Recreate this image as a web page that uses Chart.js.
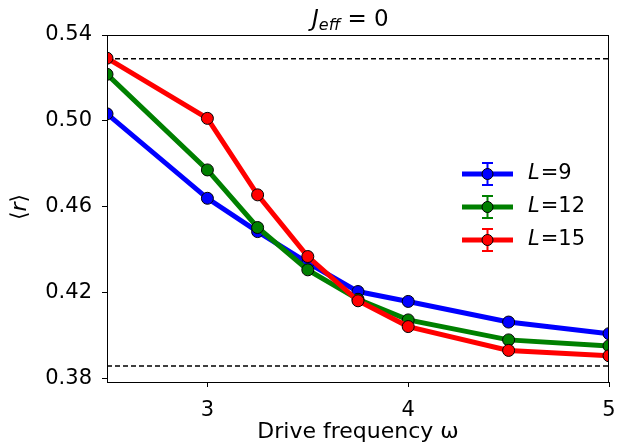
<!DOCTYPE html>
<html>
<head>
<meta charset="utf-8">
<script src="https://cdn.jsdelivr.net/npm/chart.js@4.4.0/dist/chart.umd.min.js"></script>
<style>
  html, body { margin: 0; padding: 0; background: #fff; }
  #wrap { width: 623px; height: 446px; }
</style>
</head>
<body>
<div id="wrap"><canvas id="chartCanvas" width="623" height="446"></canvas></div>
<script>
// drive frequencies
const omegas = [2.5, 3, 3.25, 3.5, 3.75, 4, 4.5, 5];

// mean gap ratio <r> for each system size
const rL9 = [0.5033, 0.4640, 0.4485, 0.4340, 0.4206, 0.4160, 0.4064, 0.4010];
const rL12 = [0.5217, 0.4772, 0.4504, 0.4307, 0.4170, 0.4074, 0.3981, 0.3953];
const rL15 = [0.5292, 0.5012, 0.4656, 0.4369, 0.4163, 0.4043, 0.3932, 0.3907];

const seriesNames = ["9", "12", "15"];
const seriesColors = ["#0000ff", "#008000", "#ff0000"];

// reference levels (GOE and Poisson)
const goeLevel = 0.5290;
const poissonLevel = 0.3860;

const xTicks = [3, 4, 5];
const yTicks = [0.38, 0.42, 0.46, 0.50, 0.54];

const FONT = "'DejaVu Sans', sans-serif";

function pts(ys) {
  return omegas.map((x, i) => ({ x: x, y: ys[i] }));
}

function levelLine(v) {
  return [{ x: 2.5, y: v }, { x: 5, y: v }];
}

const seriesData = [rL9, rL12, rL15];

const datasets = seriesData.map((ys, i) => ({
  label: "L=" + seriesNames[i],
  data: pts(ys),
  borderColor: seriesColors[i],
  backgroundColor: seriesColors[i],
  borderWidth: 5,
  pointRadius: 6,
  pointBorderColor: "#000",
  pointBorderWidth: 1,
  pointBackgroundColor: seriesColors[i],
  tension: 0,
  clip: 0,
  order: 3 - i
}));

[goeLevel, poissonLevel].forEach(v => {
  datasets.push({
    label: "",
    data: levelLine(v),
    borderColor: "#000",
    borderWidth: 1.5,
    borderDash: [5, 3],
    pointRadius: 0,
    clip: 0,
    order: 10
  });
});

const decor = {
  id: "decor",
  afterDraw(chart) {
    const ctx = chart.ctx;
    const a = chart.chartArea;
    ctx.save();

    // box
    ctx.strokeStyle = "#000";
    ctx.lineWidth = 1;
    ctx.strokeRect(Math.round(a.left) + 0.5, Math.round(a.top) + 0.5,
      Math.round(a.right - a.left) - 1, Math.round(a.bottom - a.top));

    // title J_eff = 0
    ctx.fillStyle = "#000";
    ctx.textBaseline = "alphabetic";
    ctx.textAlign = "left";
    const fBig = "italic 23px " + FONT;
    const fSub = "italic 16px " + FONT;
    const fNorm = "23px " + FONT;
    ctx.font = fBig; const wJ = ctx.measureText("J").width;
    ctx.font = fSub; const wE = ctx.measureText("eff").width;
    ctx.font = fNorm; const wR = ctx.measureText(" = 0").width;
    let tx = 312;
    const ty = 26;
    ctx.font = fBig; ctx.fillText("J", tx, ty); tx += wJ;
    ctx.font = fSub; ctx.fillText("eff", tx, ty + 4); tx += wE;
    ctx.font = fNorm; ctx.fillText(" = 0", tx, ty);

    // y label <r>
    ctx.save();
    ctx.translate(20, 207);
    ctx.rotate(-Math.PI / 2);
    ctx.textBaseline = "middle";
    ctx.font = "22px " + FONT; const w1 = ctx.measureText("\u27e8").width;
    ctx.font = "italic 22px " + FONT; const w2 = ctx.measureText("r").width;
    ctx.font = "22px " + FONT; const w3 = ctx.measureText("\u27e9").width;
    let lx = -(w1 + w2 + w3) / 2;
    ctx.font = "22px " + FONT; ctx.fillText("\u27e8", lx, 0); lx += w1;
    ctx.font = "italic 22px " + FONT; ctx.fillText("r", lx, 0); lx += w2;
    ctx.font = "22px " + FONT; ctx.fillText("\u27e9", lx, 0);
    ctx.restore();

    // legend
    seriesNames.forEach((name, i) => {
      const y = 174 + 33 * i;
      const c = seriesColors[i];
      ctx.strokeStyle = c;
      ctx.lineWidth = 5;
      ctx.beginPath(); ctx.moveTo(462, y); ctx.lineTo(513, y); ctx.stroke();
      ctx.lineWidth = 2;
      ctx.beginPath();
      ctx.moveTo(487.5, y - 11); ctx.lineTo(487.5, y + 11);
      ctx.moveTo(482, y - 11); ctx.lineTo(493, y - 11);
      ctx.moveTo(482, y + 11); ctx.lineTo(493, y + 11);
      ctx.stroke();
      ctx.fillStyle = c;
      ctx.strokeStyle = "#000";
      ctx.lineWidth = 1;
      ctx.beginPath(); ctx.arc(487.5, y, 5.5, 0, Math.PI * 2); ctx.fill(); ctx.stroke();
      ctx.fillStyle = "#000";
      ctx.textBaseline = "middle";
      ctx.font = "italic 21px " + FONT;
      ctx.fillText("L", 528, y);
      const wl = ctx.measureText("L").width;
      ctx.font = "21px " + FONT;
      ctx.fillText("=" + name, 528 + wl + 1, y);
    });

    ctx.restore();
  }
};

function noPad(s) {
  s.paddingLeft = 0; s.paddingRight = 0;
  s.paddingTop = 0; s.paddingBottom = 0;
}

const ctx = document.getElementById("chartCanvas").getContext("2d");
new Chart(ctx, {
  type: "line",
  data: { datasets: datasets },
  options: {
    responsive: false,
    animation: false,
    layout: { padding: { top: 35, right: 14, left: 0, bottom: 0 } },
    plugins: {
      legend: { display: false },
      tooltip: { enabled: false },
      title: { display: false }
    },
    scales: {
      x: {
        type: "linear",
        min: 2.5,
        max: 5,
        afterFit: s => { s.height = 64; noPad(s); },
        afterBuildTicks: s => { s.ticks = xTicks.map(v => ({ value: v })); },
        grid: { drawOnChartArea: false, drawTicks: true, tickLength: 5, color: "#000" },
        border: { display: true, color: "#000", width: 1 },
        ticks: {
          color: "#000",
          padding: 11,
          maxRotation: 0,
          font: { family: FONT, size: 21 },
          callback: v => String(v)
        },
        title: {
          display: true,
          text: "Drive frequency \u03c9",
          color: "#000",
          font: { family: FONT, size: 22 },
          padding: { top: 0, bottom: 1 }
        }
      },
      y: {
        type: "linear",
        min: 0.3785,
        max: 0.54,
        afterFit: s => { s.width = 107; noPad(s); },
        afterBuildTicks: s => { s.ticks = yTicks.map(v => ({ value: v })); },
        grid: { drawOnChartArea: false, drawTicks: true, tickLength: 5, color: "#000" },
        border: { display: true, color: "#000", width: 1 },
        ticks: {
          color: "#000",
          padding: 10,
          font: { family: FONT, size: 21 },
          callback: v => v.toFixed(2)
        }
      }
    }
  },
  plugins: [decor]
});
</script>
</body>
</html>
